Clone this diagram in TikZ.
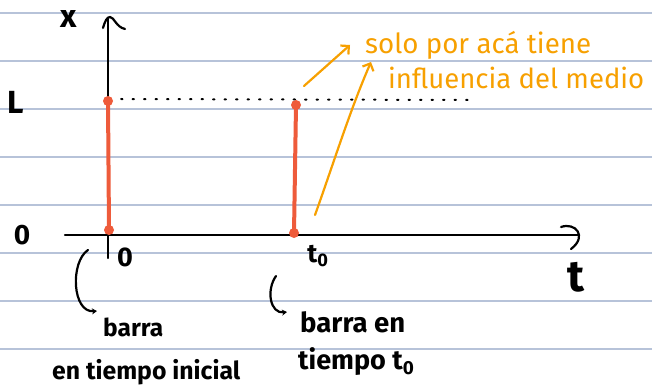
\documentclass[tikz,border=0pt]{standalone}
\usepackage{fontspec}
\setmainfont{Fira Sans}
\usetikzlibrary{arrows.meta}
\definecolor{rulecol}{HTML}{B7C3D9}
\definecolor{barcol}{HTML}{EE5B3B}
\definecolor{notecol}{HTML}{F7A000}
\tikzset{
  ruleline/.style={rulecol, line width=1.6pt},
  axisline/.style={black, line width=2.2pt, line cap=round},
  barline/.style={barcol, line width=4pt, line cap=round},
  bardot/.style={circle, fill=barcol, inner sep=0pt, minimum size=10pt},
  dotline/.style={black, line width=2pt, line cap=round, dash pattern=on 1.5pt off 10pt},
  lbl/.style={inner sep=0pt, font=\bfseries\fontsize{32}{32}\selectfont},
  blacknote/.style={inner sep=0pt, anchor=west, font=\bfseries},
  orangenote/.style={inner sep=0pt, anchor=west, text=notecol},
  orangearrow/.style={notecol, line width=2.2pt, line cap=round, -{Straight Barb[length=6pt,width=12pt]}},
  hookarrow/.style={black, line width=2.2pt, line cap=round, -{Stealth[length=5pt,width=6pt]}}
}
\begin{document}
\begin{tikzpicture}[x=1pt,y=-1pt]
\useasboundingbox (0,0) rectangle (652,390);
\fill[white] (0,0) rectangle (652,390);
\foreach \y in {13,61,109,157,205,253,301,349} \draw[ruleline] (0,\y) -- (652,\y);

% axis labels
\node[lbl] (xlab) at (69,19) {x};
\node[lbl] (Llab) at (16,102) {L};
\node[lbl, font=\bfseries\fontsize{28}{28}\selectfont] (zlab) at (22,235) {0};

% axes
\coordinate (orig) at (108,235);
\coordinate (ytop) at (108,19);
\coordinate (xleft) at (65,235);
\coordinate (xright) at (578,235);
\draw[axisline] (orig) -- (ytop);
\draw[axisline] (103,28) .. controls (105,21) and (107,17) .. (110,17) .. controls (114,17) and (116,27) .. (125,29);
\draw[axisline] (xleft) -- (xright);
\draw[axisline] (561,227) .. controls (575,222) and (588,236) .. (571,249);
\coordinate (ticktop) at (108,235);
\coordinate (tickbot) at (108,258);
\draw[axisline] (ticktop) -- (tickbot);

% tick labels
\node[lbl, font=\bfseries\fontsize{27}{27}\selectfont] (t0lab) at (125,257) {0};
\node[lbl, font=\bfseries\fontsize{26}{26}\selectfont] (tolab) at (318,256) {t\textsubscript{0}};
\node[lbl, font=\bfseries\fontsize{44}{44}\selectfont] (tlab) at (576,277) {t};

% dotted level L
\coordinate (dotstart) at (121,99);
\coordinate (dotend) at (468,100);
\draw[dotline] (dotstart) -- (dotend);

% bars
\node[bardot] (b1top) at (108,101) {};
\node[bardot] (b1bot) at (109,230) {};
\draw[barline] (b1top.center) -- (b1bot.center);
\node[bardot] (b2top) at (296,105) {};
\node[bardot] (b2bot) at (294,233) {};
\draw[barline] (b2top.center) -- (b2bot.center);

% orange notes
\node[orangenote] (note1) at (365,45) {\resizebox{226pt}{!}{solo por acá tiene}};
\node[orangenote] (note2) at (388,78) {\resizebox{256pt}{!}{influencia del medio}};
\coordinate (a1start) at (304,86);
\coordinate (a1end) at (350,45);
\coordinate (a2start) at (315,215);
\coordinate (a2end) at (371,62);
\draw[orangearrow] (a1start) -- (a1end);
\draw[orangearrow] (a2start) .. controls (333,165) and (350,110) .. (a2end);

% black notes
\coordinate (h1start) at (88,250);
\coordinate (h1end) at (97,311);
\draw[hookarrow] (h1start) .. controls (70,262) and (72,313) .. (h1end);
\node[blacknote] (n1a) at (103,327) {\resizebox{60pt}{!}{barra}};
\node[blacknote] (n1b) at (52,372) {\resizebox{188pt}{!}{en tiempo inicial}};

\coordinate (h2start) at (276,276);
\coordinate (h2end) at (287,312);
\draw[hookarrow] (h2start) .. controls (266,290) and (270,314) .. (h2end);
\node[blacknote] (n2a) at (300,322) {\resizebox{105pt}{!}{barra en}};
\node[blacknote] (n2b) at (298,362) {\resizebox{117pt}{!}{tiempo t\textsubscript{0}}};
\end{tikzpicture}
\end{document}
